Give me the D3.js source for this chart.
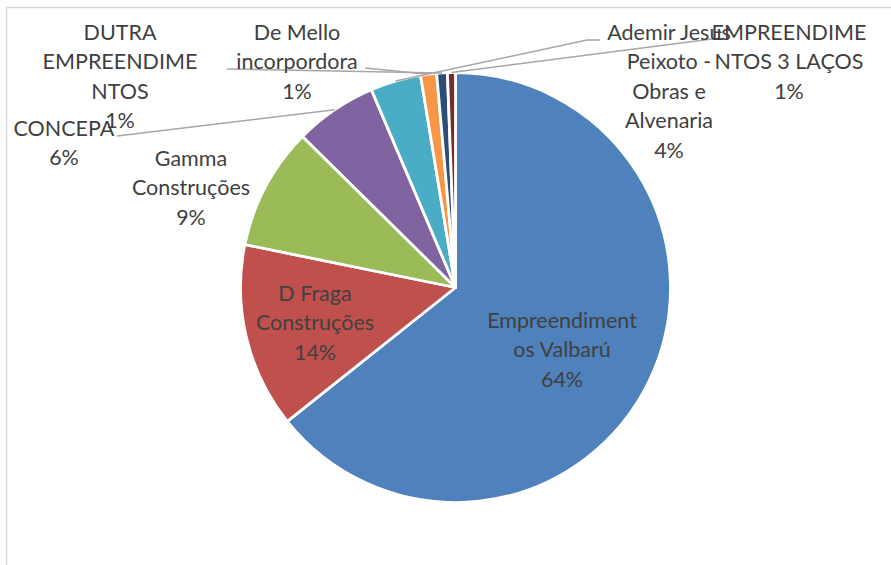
<!DOCTYPE html>
<html>
<head>
<meta charset="utf-8">
<script src="https://cdn.jsdelivr.net/npm/d3@7"></script>
<style>
  html, body { margin: 0; padding: 0; background: #fff; }
  svg { display: block; }
</style>
</head>
<body>
<svg id="chart" width="891" height="565"></svg>
<script>
// ---- data ----
const categories = [
  "Empreendimentos Valbarú",
  "D Fraga Construções",
  "Gamma Construções",
  "CONCEPA",
  "Ademir Jesus Peixoto - Obras e Alvenaria",
  "De Mello incorpordora",
  "DUTRA EMPREENDIMENTOS",
  "EMPREENDIMENTOS 3 LAÇOS"
];
const values = [64.3, 13.9, 9.2, 6.2, 3.8, 1.2, 0.8, 0.6];
const colors = ["#4F81BD", "#C0504D", "#9BBB59", "#8064A2", "#4BACC6", "#F79646", "#2C4D75", "#772C2A"];
// wrapped label text (as Excel wraps it)
const labelLines = [
  ["Empreendiment", "os Valbarú"],
  ["D Fraga", "Construções"],
  ["Gamma", "Construções"],
  ["CONCEPA"],
  ["Ademir Jesus", "Peixoto -", "Obras e", "Alvenaria"],
  ["De Mello", "incorpordora"],
  ["DUTRA", "EMPREENDIME", "NTOS"],
  ["EMPREENDIME", "NTOS 3 LAÇOS"]
];

// ---- layout ----
const W = 891, H = 565;
const cx = 455.5, cy = 287.5, R = 215;
const lineH = 29.4;
// label anchor: centre x, first baseline y
const labelPos = [[562, 328], [315, 301], [191, 166], [64, 136], [669, 40], [297, 40], [120, 40], [789, 40]];
// leader line start points (from label side), null = no leader
const leaderStart = [null, null, null, [[117, 136]], [[600, 40], [587, 40]], [[365, 68]], [[227, 69]], [[712, 39]]];

const svg = d3.select("#chart");

// chart border (partially cropped)
svg.append("rect")
  .attr("x", 6.5).attr("y", 7.5)
  .attr("width", 1000).attr("height", 1000)
  .attr("fill", "none").attr("stroke", "#d9d9d9").attr("stroke-width", 1.5);

const total = d3.sum(values);
const pie = d3.pie().sort(null).value(d => d)(values);
const arc = d3.arc().innerRadius(0).outerRadius(R);

const g = svg.append("g").attr("transform", `translate(${cx},${cy})`);
g.selectAll("path.slice")
  .data(pie)
  .join("path")
  .attr("class", "slice")
  .attr("d", arc)
  .attr("fill", (d, i) => colors[i])
  .attr("stroke", "#fff")
  .attr("stroke-width", 2.8)
  .attr("stroke-linejoin", "round");

// leader lines
const line = d3.line();
pie.forEach((d, i) => {
  if (!leaderStart[i]) return;
  const a = (d.startAngle + d.endAngle) / 2;
  const end = [cx + R * Math.sin(a), cy - R * Math.cos(a)];
  const pts = leaderStart[i].concat([end]);
  svg.append("path")
    .attr("d", line(pts))
    .attr("fill", "none")
    .attr("stroke", "#a6a6a6")
    .attr("stroke-width", 1.5);
});

// labels
const fmt = d3.format(".0%");
pie.forEach((d, i) => {
  const lines = labelLines[i].concat([fmt(values[i] / total)]);
  const t = svg.append("text")
    .attr("x", labelPos[i][0])
    .attr("y", labelPos[i][1])
    .attr("text-anchor", "middle")
    .attr("font-family", "Lato, 'Open Sans', sans-serif")
    .attr("font-size", 21.5)
    .attr("fill", "#404040");
  lines.forEach((s, k) => {
    t.append("tspan")
      .attr("x", labelPos[i][0])
      .attr("y", labelPos[i][1] + k * lineH)
      .text(s);
  });
});
</script>
</body>
</html>
